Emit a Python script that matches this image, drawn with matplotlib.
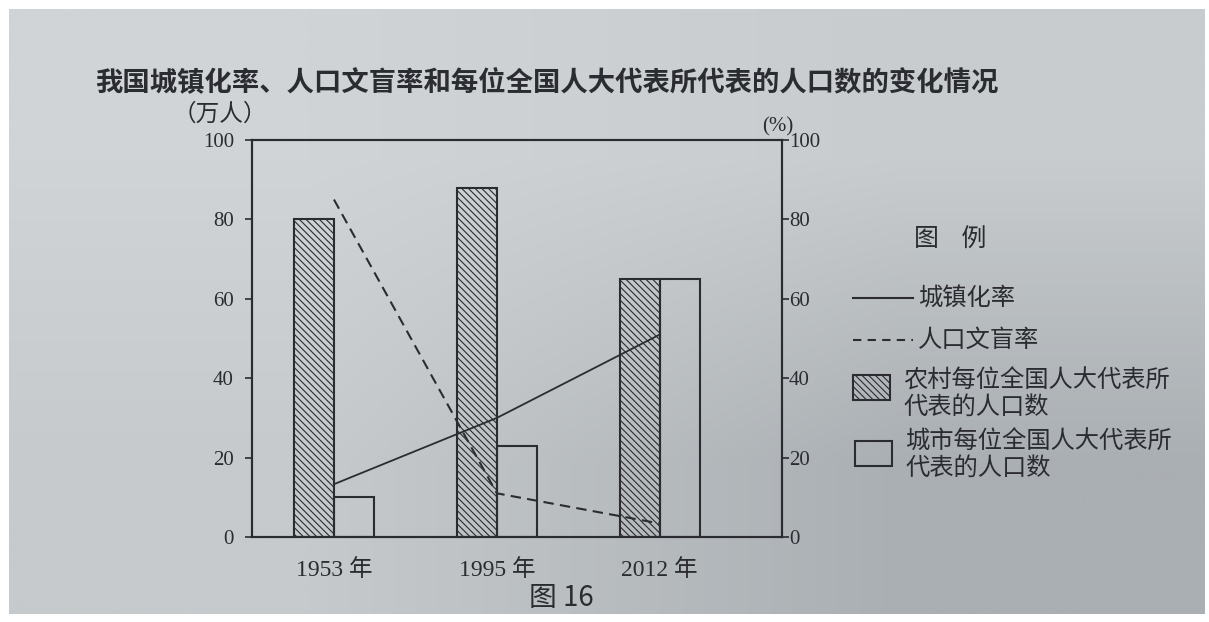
import numpy as np
import matplotlib.pyplot as plt
from matplotlib.lines import Line2D
from matplotlib.patches import Rectangle

# data
years = ["1953 年", "1995 年", "2012 年"]
rural_per_deputy = [80, 88, 65]      # 万人, hatched bars
urban_per_deputy = [10, 23, 65]      # 万人, open bars
urbanization_rate = [13.3, 30, 51]   # %, solid line
illiteracy_rate = [85, 11, 3.4]      # %, dashed line
left_ticks = [0, 20, 40, 60, 80, 100]
right_ticks = [0, 20, 40, 60, 80, 100]

W, H = 1209, 622
cjk = ["Noto Sans CJK SC", "DejaVu Sans"]
serif = ["Liberation Serif", "Noto Sans CJK SC"]
ink = "#2b2c31"
hatch = "\\\\\\\\\\"
plt.rcParams["hatch.linewidth"] = 0.8
plt.rcParams["hatch.color"] = ink


def fx(x):
    return x / W


def fy(y):
    return 1 - y / H


fig = plt.figure(figsize=(W / 100, H / 100), dpi=100, facecolor="white")

# photo-like paper background
bg = fig.add_axes([fx(9), fy(614), fx(1205 - 9), (614 - 9) / H], zorder=-5)
grad = np.array([[[208, 212, 214], [200, 204, 206]],
                 [[198, 202, 204], [170, 175, 179]]]) / 255.0
bg.imshow(grad, aspect="auto", interpolation="bilinear", extent=[0, 1, 0, 1])
bg.axis("off")

ax = fig.add_axes([fx(252), fy(537), fx(782 - 252), (537 - 140) / H])
ax.set_facecolor("none")
x = np.arange(len(years))
w = 0.245
ax.bar(x - w / 2, rural_per_deputy, w, facecolor="none", edgecolor=ink,
       hatch=hatch, linewidth=1.5, zorder=2)
ax.bar(x + w / 2, urban_per_deputy, w, facecolor="none", edgecolor=ink,
       linewidth=1.5, zorder=2)
ax.set_xlim(-0.503, 2.75)
ax.set_ylim(0, 100)
ax.set_yticks(left_ticks, [str(t) for t in left_ticks], family=serif, fontsize=15, color=ink)
ax.set_xticks(x, years, family=serif, fontsize=17, color=ink)
ax.tick_params(axis="x", length=0, pad=16)
ax.tick_params(axis="y", length=5, width=1.2, color=ink, pad=8)
for s in ax.spines.values():
    s.set_color(ink)
    s.set_linewidth(1.5)

ax2 = ax.twinx()
ax2.set_ylim(0, 100)
ax2.plot(x, urbanization_rate, "-", color=ink, linewidth=1.3, zorder=3)
ax2.plot(x, illiteracy_rate, "--", dashes=(5, 3), color=ink, linewidth=1.5, zorder=3)
ax2.set_yticks(right_ticks, [str(t) for t in right_ticks], family=serif, fontsize=15, color=ink)
ax2.tick_params(axis="y", length=5, width=1.2, color=ink, pad=0)
for s in ax2.spines.values():
    s.set_color(ink)
    s.set_linewidth(1.5)

# titles and axis units
fig.text(fx(95), fy(82), "我国城镇化率、人口文盲率和每位全国人大代表所代表的人口数的变化情况",
         family=cjk, fontsize=19.7, fontweight="bold", color=ink, va="center", ha="left")
fig.text(fx(220), fy(114), "（万人）", family=cjk, fontsize=17, color=ink, ha="center", va="center")
fig.text(fx(778), fy(127), "(%)", family=serif, fontsize=15, color=ink, ha="center", va="center")
fig.text(fx(561), fy(598), "图 16", family=cjk, fontsize=20, color=ink, ha="center", va="center")

# legend, drawn by hand
fig.text(fx(950), fy(240), "图    例", family=cjk, fontsize=18, color=ink, ha="center", va="center")
fig.add_artist(Line2D([fx(853), fx(913)], [fy(298)] * 2, color=ink, linewidth=1.5,
                      transform=fig.transFigure))
fig.text(fx(918), fy(298), "城镇化率", family=cjk, fontsize=17.5, color=ink, va="center")
fig.add_artist(Line2D([fx(853), fx(913)], [fy(340)] * 2, color=ink, linewidth=1.5,
                      linestyle="--", dashes=(4, 3), transform=fig.transFigure))
fig.text(fx(918), fy(340), "人口文盲率", family=cjk, fontsize=17.5, color=ink, va="center")
fig.add_artist(Rectangle((fx(853), fy(400)), fx(37), 25 / H, facecolor="none",
                         edgecolor=ink, hatch=hatch, linewidth=1.5, transform=fig.transFigure))
fig.text(fx(903), fy(381), "农村每位全国人大代表所", family=cjk, fontsize=17.5, color=ink, va="center")
fig.text(fx(903), fy(407), "代表的人口数", family=cjk, fontsize=17.5, color=ink, va="center")
fig.add_artist(Rectangle((fx(855), fy(466)), fx(37), 25 / H, facecolor="none",
                         edgecolor=ink, linewidth=1.5, transform=fig.transFigure))
fig.text(fx(905), fy(442), "城市每位全国人大代表所", family=cjk, fontsize=17.5, color=ink, va="center")
fig.text(fx(905), fy(468), "代表的人口数", family=cjk, fontsize=17.5, color=ink, va="center")

fig.savefig("out.png", dpi=100)
